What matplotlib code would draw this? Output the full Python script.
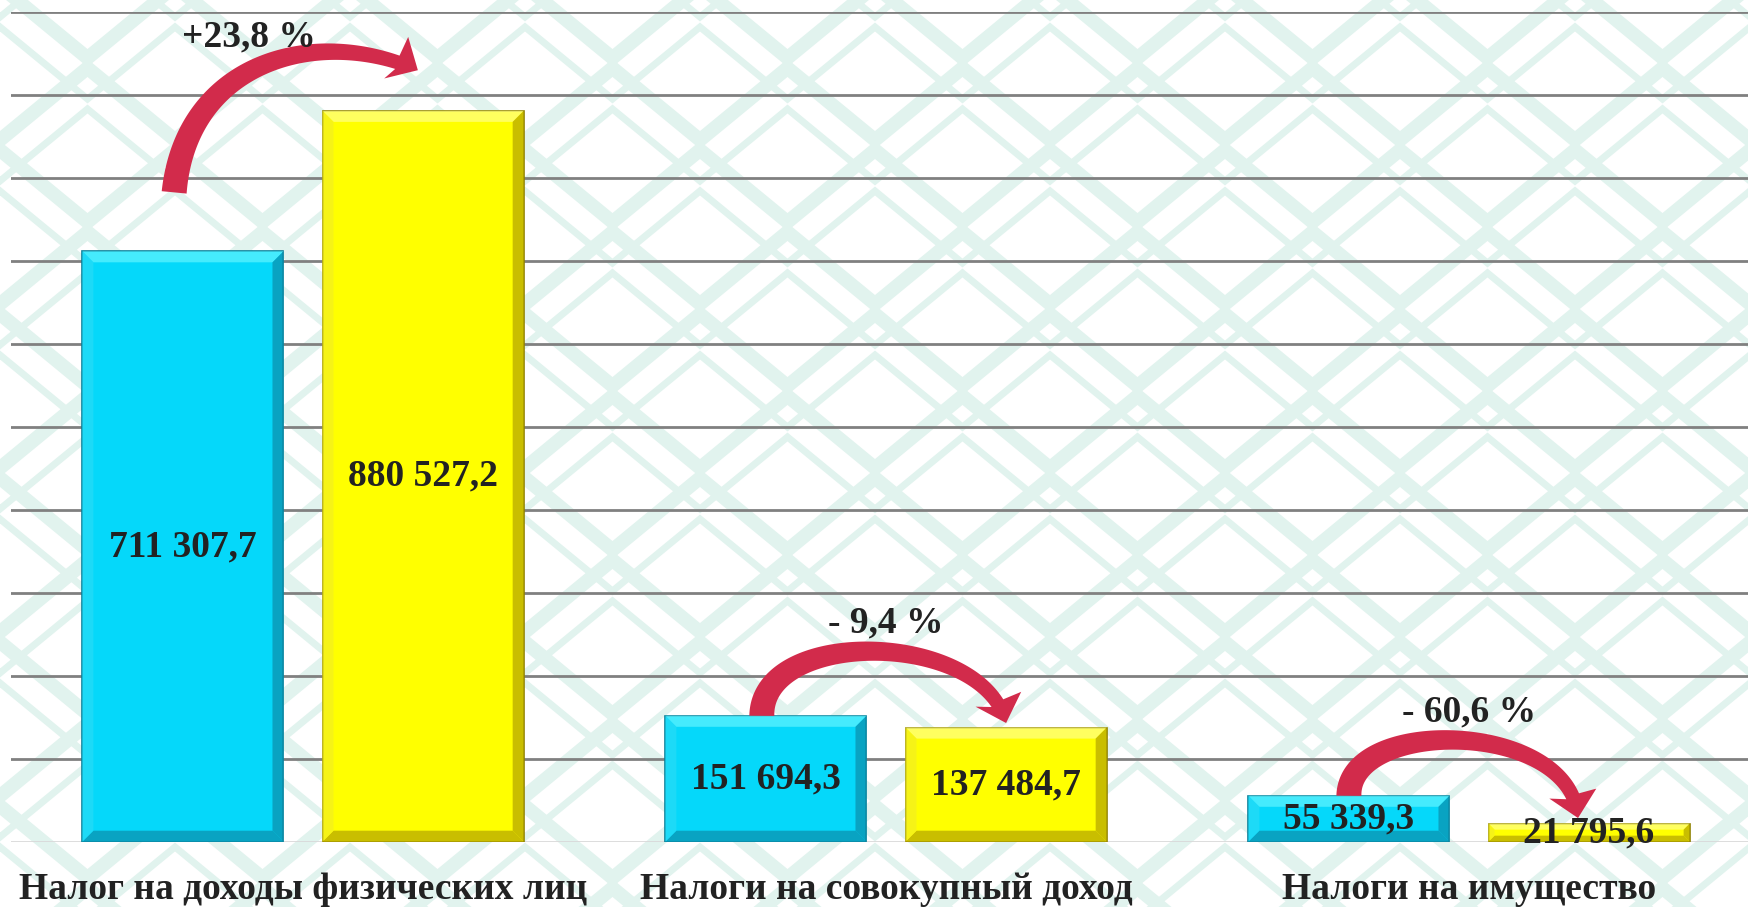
import numpy as np
import matplotlib
matplotlib.use("Agg")
import matplotlib.pyplot as plt
from matplotlib.patches import Polygon

plt.rcParams['font.family'] = ['Liberation Serif', 'DejaVu Serif']
plt.rcParams['font.weight'] = 'bold'

# data
categories = ["Налог на доходы физических лиц", "Налоги на совокупный доход", "Налоги на имущество"]
prev_values = [711307.7, 151694.3, 55339.3]
curr_values = [880527.2, 137484.7, 21795.6]
value_labels_prev = ["711 307,7", "151 694,3", "55 339,3"]
value_labels_curr = ["880 527,2", "137 484,7", "21 795,6"]
change_labels = ["+23,8 %", "- 9,4 %", "- 60,6 %"]

# arrow shape per group, offsets from the bar tops (x in category units, y in data units)
tail_off = [(-0.015, 71000), (-0.007, 0), (0.0, 0)]
head_off = [(-0.009, 49000), (0.0, 5500), (-0.019, 6700)]
ctrl1_off = [(0.021, 159000), (0.0, 107000), (0.0, 96000)]
ctrl2_off = [(-0.172, 54000), (-0.040, 112000), (-0.010, 118000)]
head_angle = [-30, -72, -78]   # direction of the arrow tip on screen, degrees
label_dx = [-0.093, 0.0, 0.0]
label_dy = [89000, 112000, 101000]

BLUE = "#05d8fa"
YELLOW = "#ffff00"
RED = "#d22b4b"
TXT = "#222222"

W, H = 1749, 907
fig = plt.figure(figsize=(W / 100, H / 100), dpi=100)

# background ornament
bg = fig.add_axes([0, 0, 1, 1], zorder=0)
bg.set_xlim(0, W)
bg.set_ylim(H, 0)
bg.axis("off")
period = 175
amp = 36
for row, y0 in enumerate(np.arange(-60, H + 90, 82)):
    shift = (row % 2) * period / 2
    xs = np.arange(-period, W + period, period / 2) + shift
    ys = y0 + np.where(np.arange(len(xs)) % 2 == 0, amp, -amp)
    bg.plot(xs, ys, color="#e1f3ee", lw=10, solid_joinstyle="miter", zorder=0)
    bg.plot(xs, ys + 41, color="#e1f3ee", lw=5, solid_joinstyle="miter", zorder=0)

ax = fig.add_axes([11.5 / W, 65.3 / H, 1749 / W, 830 / H], zorder=1)
ax.patch.set_alpha(0)

x = np.arange(len(categories))
off = 0.206
bw = 0.345
b1 = ax.bar(x - off, prev_values, bw, color=BLUE, edgecolor="#0a7f98", linewidth=1.2, zorder=3)
b2 = ax.bar(x + off, curr_values, bw, color=YELLOW, edgecolor="#8f8200", linewidth=1.2, zorder=3)

ax.set_xlim(-0.5, 2.5)
ax.set_ylim(0, 1000000)
ax.set_yticks(np.arange(100000, 1000001, 100000))
ax.yaxis.grid(True, color="#808080", linewidth=2)
ax.set_axisbelow(True)
ax.axhline(0, color="#d9d9d9", linewidth=2, zorder=2)
for s in ax.spines.values():
    s.set_visible(False)
ax.tick_params(axis="y", left=False, labelleft=False)
ax.tick_params(axis="x", bottom=False, pad=18)
ax.set_xticks(x)
ax.set_xticklabels(categories, fontsize=27, color=TXT, fontweight="bold")


# bevel look on each bar
def bevel(bars, light, dark, side):
    inv = ax.transData.inverted()
    for r in bars:
        x0, y0 = r.get_x(), r.get_y()
        w, h = r.get_width(), r.get_height()
        (px0, py0), (px1, py1) = ax.transData.transform([(x0, y0), (x0 + w, y0 + h)])
        b = min(11, (py1 - py0) / 3)
        pts = {
            "top": [(px0, py1), (px1, py1), (px1 - b, py1 - b), (px0 + b, py1 - b)],
            "bot": [(px0, py0), (px1, py0), (px1 - b, py0 + b), (px0 + b, py0 + b)],
            "left": [(px0, py0), (px0, py1), (px0 + b, py1 - b), (px0 + b, py0 + b)],
            "right": [(px1, py0), (px1, py1), (px1 - b, py1 - b), (px1 - b, py0 + b)],
        }
        cols = {"top": light, "left": side, "bot": dark, "right": dark}
        for k, p in pts.items():
            ax.add_patch(Polygon(inv.transform(p), closed=True, facecolor=cols[k],
                                 edgecolor="none", alpha=0.75, zorder=4))


bevel(b1, "#5cf2ff", "#0b92b0", "#26dcf7")
bevel(b2, "#ffff80", "#b8a800", "#f4f020")


# tapered curved arrow (cubic bezier), built in pixel space
def curved_arrow(p0, c1, c2, p3, angle, w0=25, w1=14, head_w=48, head_len=25):
    P = ax.transData.transform([p0, c1, c2, p3])
    t = np.linspace(0, 1, 300)[:, None]
    pts = ((1 - t) ** 3 * P[0] + 3 * (1 - t) ** 2 * t * P[1]
           + 3 * (1 - t) * t ** 2 * P[2] + t ** 3 * P[3])
    dist_end = np.hypot(*(pts - P[3]).T)
    k = np.argmax(dist_end < head_len * 0.9)
    shaft = pts[:k + 1]
    d = np.gradient(shaft, axis=0)
    d /= np.hypot(d[:, 0], d[:, 1])[:, None]
    nrm = np.column_stack([-d[:, 1], d[:, 0]])
    wid = np.linspace(w0, w1, len(shaft))[:, None] / 2
    left = shaft + nrm * wid
    right = shaft - nrm * wid
    a = np.radians(angle)
    hd = np.array([np.cos(a), np.sin(a)])
    base = P[3] - hd * head_len
    hn = np.array([-hd[1], hd[0]]) * head_w / 2
    outline = np.vstack([left, base + hn, P[3], base - hn, right[::-1]])
    inv = ax.transData.inverted()
    ax.add_patch(Polygon(inv.transform(outline), closed=True, facecolor=RED,
                         edgecolor="none", zorder=5))


for i in range(len(categories)):
    xb, xy_ = x[i] - off, x[i] + off
    ax.text(xb, prev_values[i] / 2, value_labels_prev[i], ha="center", va="center",
            fontsize=27, color=TXT, fontweight="bold", zorder=6)
    ax.text(xy_, curr_values[i] / 2, value_labels_curr[i], ha="center", va="center",
            fontsize=27, color=TXT, fontweight="bold", zorder=6)
    p0 = (xb + tail_off[i][0], prev_values[i] + tail_off[i][1])
    p3 = (xy_ + head_off[i][0], curr_values[i] + head_off[i][1])
    c1 = (p0[0] + ctrl1_off[i][0], p0[1] + ctrl1_off[i][1])
    c2 = (p3[0] + ctrl2_off[i][0], p3[1] + ctrl2_off[i][1])
    curved_arrow(p0, c1, c2, p3, head_angle[i])
    ax.text(x[i] + label_dx[i], max(prev_values[i], curr_values[i]) + label_dy[i], change_labels[i],
            ha="center", va="center", fontsize=27, color=TXT, fontweight="bold", zorder=6)

fig.savefig("out.png", dpi=100)
